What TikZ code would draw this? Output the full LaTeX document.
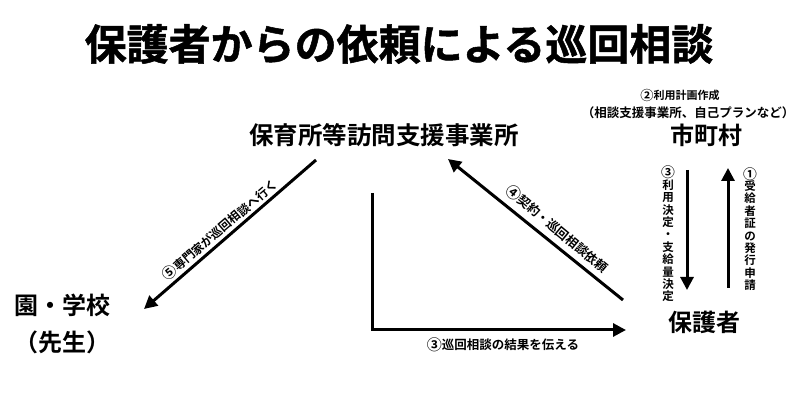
\documentclass[tikz,border=0pt]{standalone}
\usepackage{fontspec}
\usepackage{graphicx}
\setmainfont{Noto Sans CJK JP}[BoldFont={Noto Sans CJK JP Bold}]
\newfontfamily\titlefont{Noto Sans CJK JP Bold}[FakeBold=1.2]
\newcommand{\cnum}[1]{\raisebox{-0.08em}{\scalebox{1.2}{#1}}}
\usetikzlibrary{arrows.meta}
\begin{document}
\begin{tikzpicture}[x=1pt,y=-1pt,
  lbl/.style={font=\bfseries\fontsize{24}{28}\selectfont, inner sep=0pt},
  small/.style={font=\bfseries\fontsize{12}{14}\selectfont, inner sep=0pt},
  vert/.style={font=\bfseries\fontsize{11.5}{12.4}\selectfont, inner sep=0pt, align=center},
  conn/.style={line width=3pt, -{Triangle[length=13pt,width=13pt]}}]
\useasboundingbox (0,0) rectangle (800,419);
\fill[white] (0,0) rectangle (800,419);
\node[font=\titlefont\fontsize{42}{46}\selectfont, inner sep=0pt] (title) at (399,44) {保護者からの依頼による巡回相談};
\node[lbl, font=\bfseries\fontsize{24.5}{28}\selectfont] (hoiku) at (384,135) {保育所等訪問支援事業所};
\node[small, font=\bfseries\fontsize{11}{13}\selectfont] (plan1) at (680,95) {\cnum{②}利用計画作成};
\node[small, font=\bfseries\fontsize{12.5}{14}\selectfont] (plan2) at (688,113) {（相談支援事業所、自己プランなど）};
\node[lbl] (city) at (706,135) {市町村};
\node[lbl] (parent) at (704,322) {保護者};
\node[lbl] (school) at (62,305) {園・学校};
\node[lbl] (teacher) at (62,342) {（先生）};
% coordinates
\coordinate (a3s) at (687,170);
\coordinate (a3e) at (687,290);
\coordinate (a1s) at (728,288);
\coordinate (a1e) at (728,168);
\coordinate (a5s) at (316,160);
\coordinate (a5e) at (144,309);
\coordinate (a4s) at (623,300);
\coordinate (a4e) at (448,159);
\coordinate (b3s) at (372,193);
\coordinate (b3c) at (372,330);
\coordinate (b3e) at (626,330);
\draw[conn] (a3s) -- (a3e);
\draw[conn] (a1s) -- (a1e);
\draw[conn] (a5s) -- (a5e);
\draw[conn] (a4s) -- (a4e);
\draw[conn] (b3s) -- (b3c) -- (b3e);
\node[vert] (l3) at (668,234) {\cnum{③}\\利\\用\\決\\定\\・\\支\\給\\量\\決\\定};
\node[vert] (l1) at (750,229) {\cnum{①}\\受\\給\\者\\証\\の\\発\\行\\申\\請};
\node[small, font=\bfseries\fontsize{12}{14}\selectfont, rotate=40.5] (l5) at (220,230) {\cnum{⑤}専門家が巡回相談へ行く};
\node[small, font=\bfseries\fontsize{12.5}{14}\selectfont, rotate=-39.5] (l4) at (557,229) {\cnum{④}契約・巡回相談依頼};
\node[small, font=\bfseries\fontsize{12.5}{14}\selectfont] (lb3) at (503,345) {\cnum{③}巡回相談の結果を伝える};
\end{tikzpicture}
\end{document}
